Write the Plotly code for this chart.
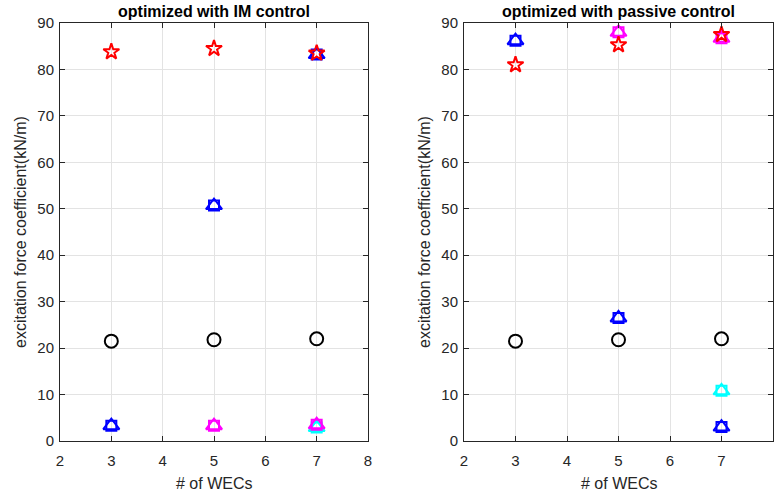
import plotly.graph_objects as go

# ---- data ----
wecs = [3, 5, 7]

# left: optimized with IM control
im_circle = [21.5, 21.8, 22.0]
im_star = [83.8, 84.5, 83.5]
im_blue_x = [3, 5, 7]
im_blue_y = [3.3, 50.7, 83.2]
im_mag_x = [5, 7]
im_mag_y = [3.3, 3.5]
im_cyan_x = [7]
im_cyan_y = [2.9]

# right: optimized with passive control
pa_circle = [21.5, 21.8, 22.0]
pa_star = [81.0, 85.3, 87.5]
pa_blue_x = [3, 5, 7]
pa_blue_y = [86.2, 26.5, 3.0]
pa_mag_x = [5, 7]
pa_mag_y = [88.0, 86.7]
pa_cyan_x = [7]
pa_cyan_y = [10.8]

x_ticks = [2, 3, 4, 5, 6, 7, 8]
y_ticks = [0, 10, 20, 30, 40, 50, 60, 70, 80, 90]

titles = ["optimized with IM control", "optimized with passive control"]
xlabel = "# of WECs"
ylabel = "excitation force coefficient(kN/m)"

W, H = 776, 498
FONT = "Liberation Sans, Arial, sans-serif"
fig = go.Figure()


def add_sq_tri(x, y, color, xa, ya):
    fig.add_trace(go.Scatter(x=x, y=y, mode="markers", xaxis=xa, yaxis=ya,
                             marker=dict(symbol="square-open", size=10, color=color,
                                         line=dict(width=2, color=color)),
                             showlegend=False, hoverinfo="skip"))
    fig.add_trace(go.Scatter(x=x, y=y, mode="markers", xaxis=xa, yaxis=ya,
                             marker=dict(symbol="triangle-up-open", size=14, color=color,
                                         line=dict(width=2, color=color)),
                             showlegend=False, hoverinfo="skip"))


def panel(circ, star, bx, by, mx, my, cx, cy, xa, ya):
    fig.add_trace(go.Scatter(x=wecs, y=circ, mode="markers", xaxis=xa, yaxis=ya,
                             marker=dict(symbol="circle-open", size=13, color="black",
                                         line=dict(width=2, color="black")),
                             showlegend=False))
    add_sq_tri(cx, cy, "cyan", xa, ya)
    add_sq_tri(mx, my, "magenta", xa, ya)
    add_sq_tri(bx, by, "blue", xa, ya)
    fig.add_trace(go.Scatter(x=wecs, y=star, mode="markers", xaxis=xa, yaxis=ya,
                             marker=dict(symbol="star-open", size=12, color="red",
                                         line=dict(width=2, color="red")),
                             showlegend=False))


panel(im_circle, im_star, im_blue_x, im_blue_y, im_mag_x, im_mag_y, im_cyan_x, im_cyan_y, "x", "y")
panel(pa_circle, pa_star, pa_blue_x, pa_blue_y, pa_mag_x, pa_mag_y, pa_cyan_x, pa_cyan_y, "x2", "y2")

ydom = [1 - 441 / H, 1 - 23 / H]
axfont = dict(family=FONT, size=15, color="#262626")
common_x = dict(range=[2, 8], tickvals=x_ticks, showgrid=True, gridcolor="#e3e3e3",
                showline=True, linecolor="#262626", linewidth=1, mirror="ticks",
                ticks="inside", ticklen=5, tickcolor="#262626", zeroline=False,
                tickfont=axfont, automargin=False, ticklabelstandoff=6)
common_y = dict(range=[0, 90], tickvals=y_ticks, showgrid=True, gridcolor="#e3e3e3",
                showline=True, linecolor="#262626", linewidth=1, mirror="ticks",
                ticks="inside", ticklen=5, tickcolor="#262626", zeroline=False,
                tickfont=axfont, automargin=False, ticklabelstandoff=2)

fig.update_layout(
    width=W, height=H,
    margin=dict(l=0, r=0, t=0, b=0),
    paper_bgcolor="white", plot_bgcolor="white",
    xaxis=dict(common_x, domain=[60 / W, 368 / W], anchor="y"),
    yaxis=dict(common_y, domain=ydom, anchor="x"),
    xaxis2=dict(common_x, domain=[464 / W, 773 / W], anchor="y2"),
    yaxis2=dict(common_y, domain=ydom, anchor="x2"),
)

centers = [(60 + 368) / 2 / W, (464 + 773) / 2 / W]
for t, cxp in zip(titles, centers):
    fig.add_annotation(text="<b>" + t + "</b>", x=cxp, y=1 - 11 / H, xref="paper", yref="paper",
                       showarrow=False, xanchor="center", yanchor="middle",
                       font=dict(family=FONT, size=16, color="black"))
    fig.add_annotation(text=xlabel, x=cxp, y=1 - 483 / H, xref="paper", yref="paper",
                       showarrow=False, xanchor="center", yanchor="middle",
                       font=dict(family=FONT, size=16, color="#262626"))

for xc in [20, 424]:
    fig.add_annotation(text=ylabel, x=xc / W, y=1 - 232 / H, xref="paper", yref="paper",
                       showarrow=False, xanchor="center", yanchor="middle", textangle=-90,
                       font=dict(family=FONT, size=16, color="#262626"))

fig.write_html("out.html")
